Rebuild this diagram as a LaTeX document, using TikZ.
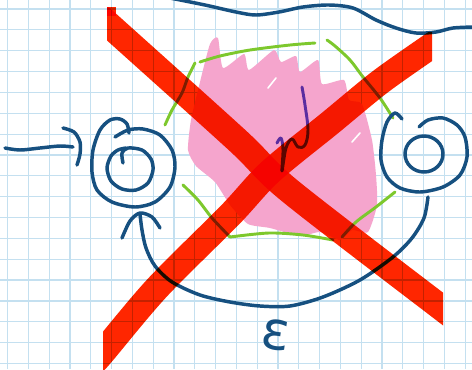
\documentclass[tikz,border=0pt]{standalone}
\usepackage{fontspec}
\newfontfamily\epsfont{DejaVu Sans}
\definecolor{gridc}{RGB}{196,224,240}
\definecolor{inkblue}{RGB}{22,80,128}
\definecolor{xred}{RGB}{255,38,0}
\definecolor{pinkfill}{RGB}{245,165,205}
\definecolor{greenline}{RGB}{125,200,45}
\definecolor{purpleline}{RGB}{90,45,160}
\begin{document}
\begin{tikzpicture}[x=0.75pt,y=-0.75pt,
  ink/.style={draw=inkblue, line width=2.6pt, line cap=round, line join=round},
  greenink/.style={draw=greenline, line width=2.2pt, line cap=round, line join=round},
  purpleink/.style={draw=purpleline, line width=2.2pt, line cap=round, line join=round},
  xstroke/.style={draw=xred, line width=19.5pt},
  gridline/.style={draw=gridc, line width=0.9pt}]
\useasboundingbox (0,0) rectangle (472,369);
\fill[white] (0,0) rectangle (472,369);
% grid
\foreach \i in {0,...,22} {\draw[gridline] ({7.5+20.8*\i},0) -- ({7.5+20.8*\i},369);}
\foreach \j in {0,...,17} {\draw[gridline] (0,{9+20.85*\j}) -- (472,{9+20.85*\j});}
% pink scribble
\fill[pinkfill] plot[smooth cycle, tension=0.35] coordinates {
 (210,44) (218,38) (223,68) (244,54) (249,70) (274,50) (281,62) (296,56) (300,72) (318,60)
 (322,84) (344,80) (349,100) (362,104) (372,140) (376,175) (377,205) (368,232) (352,230)
 (340,240) (320,232) (300,236) (270,228) (248,224) (230,205) (215,182) (196,166) (188,150)
 (191,120) (200,82)};
\draw[white, line width=1.2pt, line cap=round] (268,88) -- (276,78);
\draw[white, line width=1.2pt, line cap=round] (352,142) -- (360,133);
% green hexagon-like outline
\draw[greenink] plot[smooth] coordinates {(165,125) (172,110) (182,93) (188,77) (195,63)};
\draw[greenink] plot[smooth] coordinates {(200,62) (220,56) (250,50) (290,45) (315,43)};
\draw[greenink] plot[smooth] coordinates {(327,40) (335,46) (350,60) (363,77) (380,98) (393,118)};
\draw[greenink] plot[smooth] coordinates {(183,185) (198,200) (212,218) (230,237)};
\draw[greenink] plot[smooth] coordinates {(230,237) (269,233) (303,235) (333,240)};
\draw[greenink] plot[smooth] coordinates {(342,237) (356,222) (376,207) (395,192)};
% purple mark
\draw[purpleink] plot[smooth, tension=0.6] coordinates {(277,143) (281,138) (283,150) (282,171) (286,148) (292,139) (298,147) (305,145) (308,130) (305,105) (302,87)};
% top wavy line
\draw[ink] plot[smooth] coordinates {(170,-2) (205,5) (236,12) (256,15) (279,12) (303,7) (329,5) (353,8) (376,20) (396,28) (416,33) (436,32) (453,28) (474,27)};
% start arrow
\coordinate (start) at (5,148);
\draw[ink] plot[smooth] coordinates {(5,148) (20,150) (40,148) (60,146) (73,147)};
\draw[ink] plot[smooth] coordinates {(63,128) (74,132) (80,142) (80,154) (77,165)};
% left state
\coordinate (q0) at (132,169);
\draw[ink] plot[smooth] coordinates {(115,137) (128,130) (143,129) (160,135) (172,150) (175,167) (170,187) (155,202) (135,207) (112,202) (97,190) (92,172) (93,150) (100,130) (110,120) (120,119) (127,124) (129,133)};
\draw[ink] plot[smooth] coordinates {(123,163) (122,153) (128,148) (142,150) (151,159) (153,170) (148,183) (136,190) (122,189) (111,181) (107,168) (111,156) (118,150) (126,148)};
% right state
\coordinate (q1) at (424,154);
\draw[ink] plot[smooth] coordinates {(402,119) (395,113) (387,122) (382,140) (381,160) (387,177) (400,188) (420,192) (443,187) (460,175) (467,157) (465,137) (457,125) (443,118) (428,120) (419,127)};
\draw[ink] (q1) ellipse [x radius=19, y radius=18];
% epsilon loop
\draw[ink] plot[smooth] coordinates {(428,197) (424,218) (412,238) (393,257) (360,280) (323,297) (290,306) (260,306) (230,302) (200,295) (172,282) (155,266) (146,248) (142,230) (140,214)};
\draw[ink] plot[smooth] coordinates {(122,238) (130,221) (140,213) (152,217) (160,228)};
\node[text=inkblue, font=\epsfont\fontsize{40}{40}\selectfont, inner sep=0pt, rotate=-8] (eps) at (276,335) {ε};
% red X
\begin{scope}[blend mode=multiply]
  \begin{scope}
    \clip (107,7) rectangle (443,369);
    \draw[xstroke] plot[smooth] coordinates {(95,12) (107,23) (237,140) (290,191) (443,309) (455,318)};
  \end{scope}
  \fill[xred] (107,7) rectangle (116,16);
  \begin{scope}
    \clip (103,32) rectangle (432,369);
    \draw[xstroke] plot[smooth] coordinates {(95,361) (103,352) (157,288) (230,215) (270,172) (330,123) (380,82) (431,46) (440,40)};
  \end{scope}
\end{scope}
\end{tikzpicture}
\end{document}
